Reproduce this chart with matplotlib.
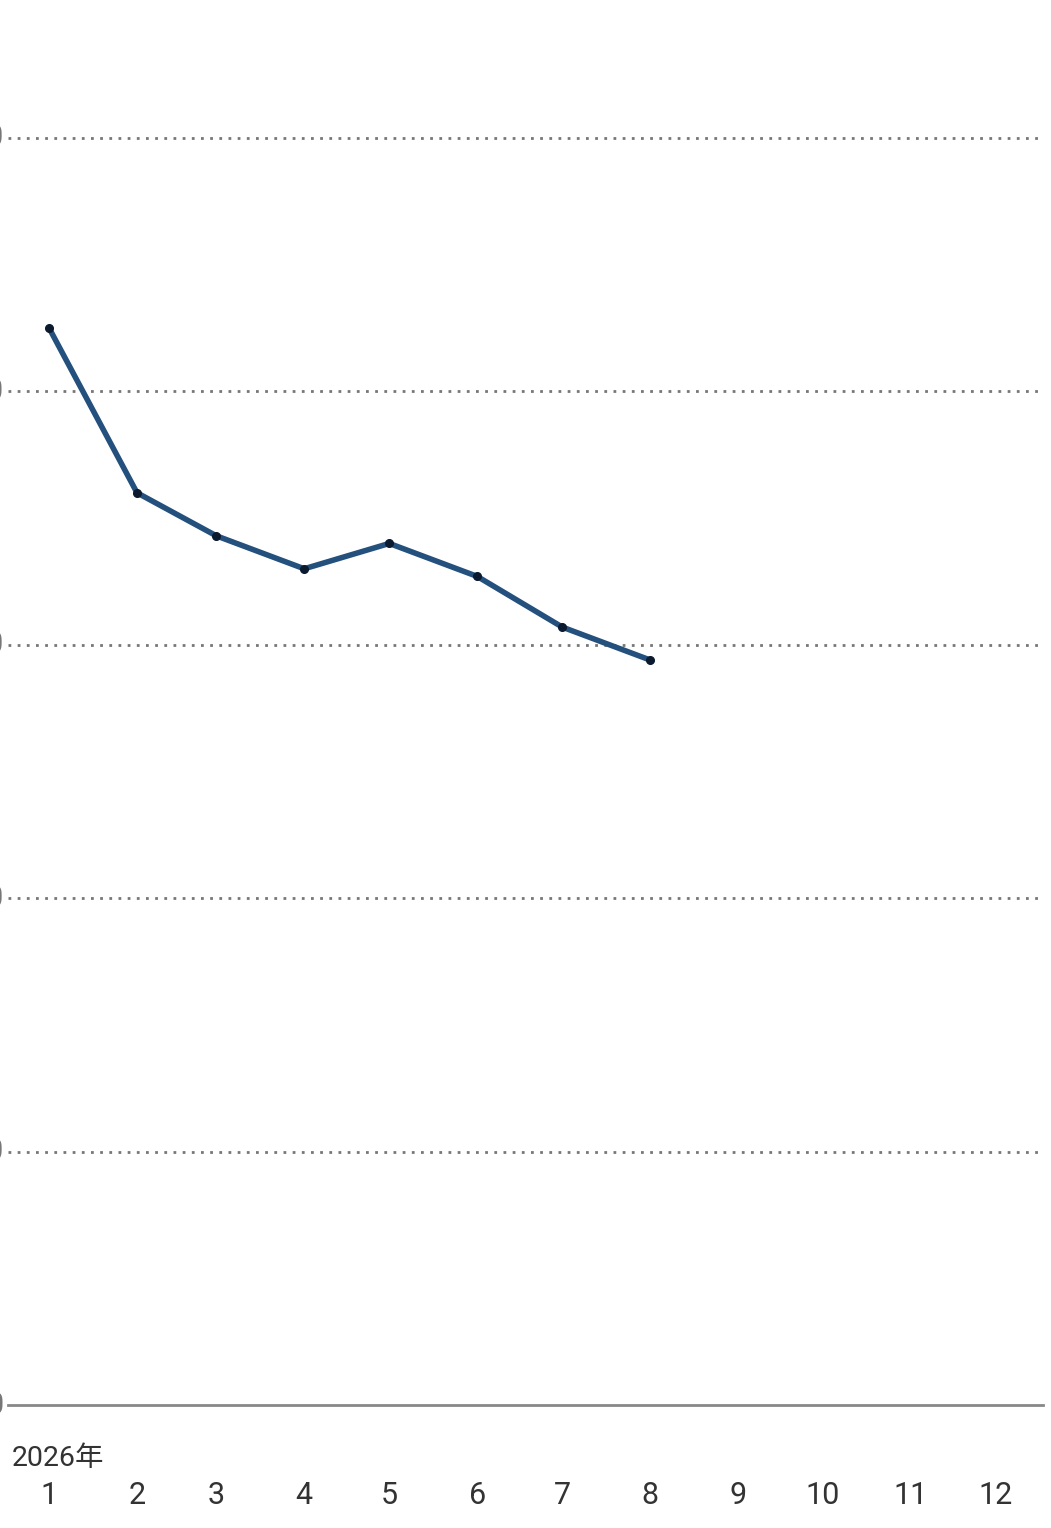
import numpy as np
import matplotlib.pyplot as plt
import matplotlib.dates as mdates
from datetime import datetime, timedelta

plt.rcParams['font.family'] = ['Roboto', 'Noto Sans CJK JP', 'DejaVu Sans']

months = [datetime(2026, m, 1) for m in range(1, 13)]
month_labels = [str(m) for m in range(1, 13)]
values = [4.25, 3.60, 3.43, 3.30, 3.40, 3.27, 3.07, 2.94]
y_ticks = [0, 1, 2, 3, 4, 5]
y_labels = ['0', '1.0', '2.0', '3.0', '4.0', '5.0']

W, H = 1051, 1528
fig = plt.figure(figsize=(W / 100, H / 100), dpi=100)
# axes spans px 8..1043 horizontally, baseline at 1405
top_px = 1405 - 5.2 * 253.4
ax = fig.add_axes([8 / W, 1 - 1405 / H, (1043 - 8) / W, (1405 - top_px) / H])

ax.set_xlim(months[0] - timedelta(days=14.5), months[0] + timedelta(days=350.6))
ax.set_ylim(0, 5.2)

for y in y_ticks[1:]:
    ax.axhline(y, color='#777777', linewidth=2.0, linestyle=(0, (1, 2.3)), zorder=1)
ax.axhline(0, color='#888888', linewidth=2.0, zorder=1, clip_on=False)

ax.plot(months[:len(values)], values, color='#24507d', linewidth=4.0,
        solid_capstyle='round', zorder=3)
ax.plot(months[:len(values)], values, linestyle='none', marker='o',
        markersize=5.5, color='#0b1a2e', zorder=4)

for s in ax.spines.values():
    s.set_visible(False)
ax.set_yticks([])
ax.set_xticks(months)
ax.set_xticklabels(month_labels, fontsize=22, color='#333333')
ax.tick_params(axis='x', length=0, pad=55)

# y labels are clipped at the left edge of the image, as in the original
for y, lab in zip(y_ticks, y_labels):
    fig.text(4 / W, ax.transData.transform((0, y))[1] / H, lab,
             ha='right', va='center', fontsize=22, color='#777777')

fig.text(12 / W, 1 - 1459 / H, '2026年', ha='left', va='center',
         fontsize=20.5, color='#333333')

fig.savefig('out.png', dpi=100, facecolor='white')
